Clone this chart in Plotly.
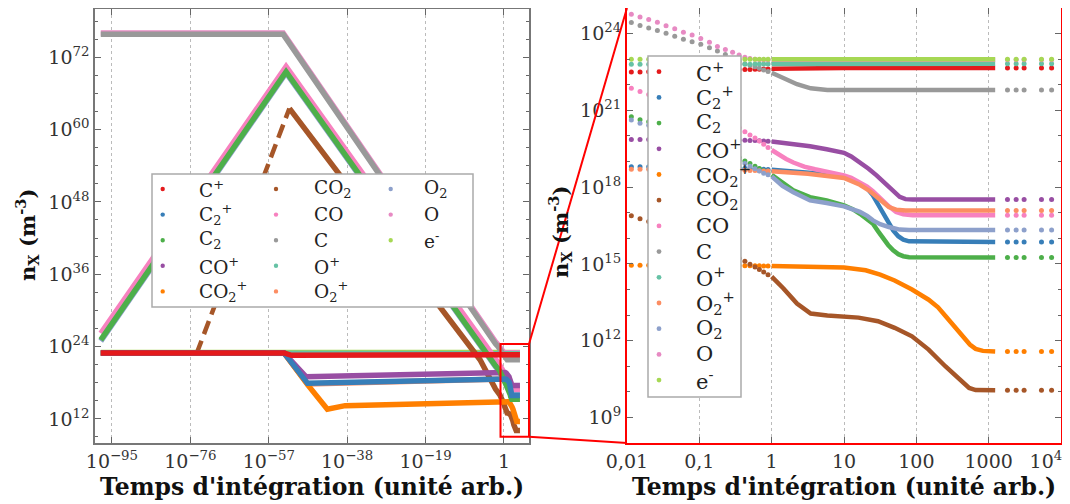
import plotly.graph_objects as go

# The page body adds an 8 px margin, so the figure is sized to fit the window
W, H = 1062, 496
OFF = 8
FONT = "DejaVu Serif"

# ---------------- shared time grids (log10 of integration time) ----------------
t_sparse = [-1.94, -1.82, -1.70, -1.58, -1.46, -1.34, -1.22, -1.10, -0.98, -0.86,
            -0.75, -0.64, -0.54, -0.45, -0.37, -0.30, -0.23, -0.17, -0.11, -0.05]
t_tail = [3.26, 3.38, 3.49, 3.73, 3.87]

# ---------------- ticks ----------------
left_xtick_exp = [-95, -76, -57, -38, -19, 0]
left_xtick_text = ["10<sup>\u221295</sup>", "10<sup>\u221276</sup>", "10<sup>\u221257</sup>",
                   "10<sup>\u221238</sup>", "10<sup>\u221219</sup>", "1"]
left_ytick_exp = [12, 24, 36, 48, 60, 72]
left_ytick_text = ["10<sup>12</sup>", "10<sup>24</sup>", "10<sup>36</sup>",
                   "10<sup>48</sup>", "10<sup>60</sup>", "10<sup>72</sup>"]
left_yminor_exp = [9, 15, 18, 21, 27, 30, 33, 39, 42, 45, 51, 54, 57, 63, 66, 69, 75, 78]
right_xtick_exp = [-2, -1, 0, 1, 2, 3, 4]
right_xtick_text = ["0,01", "0,1", "1", "10", "100", "1000",
                    "10<sup>4</sup>\u00a0\u00a0\u00a0\u00a0\u00a0"]
right_ytick_exp = [9, 12, 15, 18, 21, 24]
right_ytick_text = ["10<sup>9</sup>", "10<sup>12</sup>", "10<sup>15</sup>",
                    "10<sup>18</sup>", "10<sup>21</sup>", "10<sup>24</sup>"]
right_yminor_exp = [10, 11, 13, 14, 16, 17, 19, 20, 22, 23, 25]

# ---------------- species data (log10 of density, m^-3) ----------------
# C+
cp_early_t = [-97.7, -53.3, -51.5, -2.05]
cp_early_n = [22.95, 22.95, 22.55, 22.50]
cp_sparse = [22.50, 22.50, 22.51, 22.51, 22.52, 22.52, 22.53, 22.54, 22.55, 22.56,
             22.57, 22.58, 22.58, 22.59, 22.60, 22.60, 22.61, 22.61, 22.62, 22.62]
cp_dense_t = [0.0, 0.5, 1.0, 3.09]
cp_dense_n = [22.63, 22.65, 22.66, 22.66]
cp_final = 22.66

# C2+
c2p_early_t = [-97.7, -53.3, -47.6, -2.05]
c2p_early_n = [22.95, 22.95, 17.9, 18.8]
c2p_sparse = [18.80, 18.80, 18.80, 18.80, 18.80, 18.79, 18.79, 18.79, 18.78, 18.78,
              18.77, 18.77, 18.76, 18.75, 18.74, 18.73, 18.72, 18.71, 18.70, 18.69]
c2p_dense_t = [0.0, 0.3, 0.6, 1.0, 1.22, 1.32, 1.40, 1.47, 1.54, 1.61, 1.68, 1.75, 1.82, 1.90, 3.09]
c2p_dense_n = [18.68, 18.62, 18.54, 18.39, 18.13, 17.95, 17.68, 17.33, 16.96, 16.60, 16.31, 16.08, 15.95, 15.88, 15.86]
c2p_final = 15.86

# C2
c2_early_t = [-97.7, -52.8, -2.05]
c2_early_n = [25.1, 69.6, 20.8]
c2_sparse = [20.75, 20.63, 20.55, 20.45, 20.35, 20.25, 20.14, 20.02, 19.90, 19.77,
             19.62, 19.47, 19.32, 19.16, 19.02, 18.92, 18.82, 18.73, 18.64, 18.55]
c2_dense_t = [0.0, 0.07, 0.15, 0.3, 0.53, 0.76, 1.0, 1.12, 1.22, 1.32, 1.40, 1.47, 1.54, 1.61, 1.68, 1.75, 1.82, 1.90, 3.09]
c2_dense_n = [18.48, 18.33, 18.15, 17.87, 17.61, 17.48, 17.29, 17.14, 16.96, 16.77, 16.57, 16.28, 15.99, 15.74, 15.53, 15.38, 15.30, 15.26, 15.25]
c2_final = 15.25

# CO+
cop_early_t = [-97.7, -53.3, -48.0, -2.05]
cop_early_n = [22.95, 22.95, 19.0, 19.86]
cop_sparse = [19.86, 19.86, 19.86, 19.86, 19.86, 19.85, 19.85, 19.85, 19.85, 19.85,
              19.84, 19.84, 19.84, 19.83, 19.83, 19.82, 19.82, 19.81, 19.80, 19.79]
cop_dense_t = [0.0, 0.3, 0.53, 0.76, 1.0, 1.1, 1.22, 1.34, 1.45, 1.57, 1.68, 1.77, 1.85, 1.95, 3.09]
cop_dense_n = [19.78, 19.70, 19.60, 19.48, 19.34, 19.20, 18.97, 18.72, 18.46, 18.13, 17.85, 17.62, 17.53, 17.52, 17.52]
cop_final = 17.52

# CO2+
co2p_early_t = [-97.7, -53.3, -47.5, -42.8, -38.5, -2.05]
co2p_early_n = [22.95, 22.95, 17.6, 13.6, 14.2, 14.95]
co2p_sparse = [14.95, 14.95, 14.95, 14.95, 14.95, 14.95, 14.95, 14.95, 14.94, 14.94,
               14.94, 14.94, 14.94, 14.93, 14.93, 14.93, 14.93, 14.93, 14.92, 14.92]
co2p_dense_t = [0.0, 0.5, 1.0, 1.3, 1.5, 1.7, 1.94, 2.17, 2.3, 2.4, 2.52, 2.64, 2.74, 2.82, 2.92, 3.09]
co2p_dense_n = [14.92, 14.90, 14.86, 14.75, 14.58, 14.35, 14.00, 13.60, 13.30, 12.97, 12.55, 12.17, 11.85, 11.68, 11.60, 11.58]
co2p_final = 11.58

# CO2 (rising part drawn dashed on the left panel)
co2_rise_t = [-74.5, -52.0]
co2_rise_n = [22.8, 63.5]
co2_early_t = [-52.0, -5.8, -2.05]
co2_early_n = [63.5, 21.8, 16.95]
co2_sparse = [16.88, 16.76, 16.66, 16.55, 16.44, 16.32, 16.20, 16.07, 15.94, 15.80,
              15.66, 15.52, 15.37, 15.22, 15.10, 14.99, 14.88, 14.78, 14.68, 14.58]
co2_dense_t = [0.0, 0.16, 0.35, 0.54, 0.77, 1.0, 1.2, 1.47, 1.7, 1.94, 2.17, 2.4, 2.55, 2.64, 2.73, 2.82, 2.95, 3.09]
co2_dense_n = [14.50, 14.05, 13.45, 13.06, 12.98, 12.95, 12.90, 12.76, 12.50, 12.17, 11.65, 11.00, 10.60, 10.34, 10.15, 10.07, 10.06, 10.06]
co2_final = 10.06

# CO
co_early_t = [-97.7, -52.8, -2.05]
co_early_n = [26.2, 70.45, 21.9]
co_sparse = [21.86, 21.74, 21.62, 21.50, 21.40, 21.30, 21.20, 21.10, 21.00, 20.88,
             20.76, 20.62, 20.48, 20.32, 20.16, 20.04, 19.92, 19.80, 19.68, 19.55]
co_dense_t = [0.0, 0.1, 0.2, 0.3, 0.45, 0.6, 0.76, 0.9, 1.0, 1.1, 1.22, 1.32, 1.40, 1.5, 1.62, 1.72, 1.82, 1.95, 3.09]
co_dense_n = [19.45, 19.25, 19.10, 18.96, 18.80, 18.70, 18.62, 18.53, 18.46, 18.36, 18.19, 18.02, 17.84, 17.56, 17.25, 17.03, 16.94, 16.90, 16.90]
co_final = 16.90

# C
c_early_t = [-97.7, -53.5, -2.05]
c_early_n = [75.8, 75.8, 24.47]
c_sparse = [24.43, 24.32, 24.22, 24.12, 24.01, 23.90, 23.78, 23.68, 23.58, 23.45,
            23.32, 23.18, 23.04, 22.92, 22.82, 22.76, 22.70, 22.65, 22.58, 22.52]
c_dense_t = [0.0, 0.16, 0.35, 0.54, 0.77, 3.09]
c_dense_n = [22.47, 22.28, 22.02, 21.86, 21.80, 21.80]
c_final = 21.80

# O+
op_early_t = [-97.7, -53.3, -2.05]
op_early_n = [22.95, 22.85, 22.80]
op_sparse = [22.80, 22.80, 22.80, 22.80, 22.80, 22.80, 22.80, 22.80, 22.80, 22.80,
             22.80, 22.80, 22.80, 22.80, 22.80, 22.80, 22.81, 22.81, 22.81, 22.81]
op_dense_t = [0.0, 3.09]
op_dense_n = [22.81, 22.82]
op_final = 22.82

# O2+
o2p_early_t = [-97.7, -53.3, -47.6, -2.05]
o2p_early_n = [22.95, 22.95, 17.8, 18.7]
o2p_sparse = [18.70, 18.70, 18.70, 18.70, 18.70, 18.70, 18.69, 18.69, 18.69, 18.68,
              18.68, 18.67, 18.67, 18.66, 18.66, 18.65, 18.65, 18.64, 18.63, 18.63]
o2p_dense_t = [0.0, 0.5, 1.0, 1.22, 1.36, 1.45, 1.54, 1.62, 1.72, 1.85, 3.09]
o2p_dense_n = [18.62, 18.52, 18.36, 18.09, 17.84, 17.62, 17.38, 17.22, 17.12, 17.09, 17.09]
o2p_final = 17.09

# O2
o2_early_t = [-97.7, -52.8, -2.05]
o2_early_n = [24.9, 69.4, 20.65]
o2_sparse = [20.62, 20.50, 20.42, 20.32, 20.22, 20.12, 20.01, 19.89, 19.77, 19.64,
             19.50, 19.35, 19.20, 19.05, 18.92, 18.82, 18.72, 18.63, 18.54, 18.48]
o2_dense_t = [0.0, 0.07, 0.15, 0.3, 0.53, 0.76, 1.0, 1.22, 1.32, 1.40, 1.5, 1.62, 1.77, 1.90, 3.09]
o2_dense_n = [18.42, 18.26, 18.05, 17.80, 17.48, 17.38, 17.25, 17.03, 16.88, 16.70, 16.55, 16.44, 16.34, 16.32, 16.32]
o2_final = 16.32

# O
o_early_t = [-97.7, -53.5, -2.05]
o_early_n = [76.0, 76.0, 24.8]
o_sparse = [24.76, 24.65, 24.55, 24.44, 24.31, 24.19, 24.05, 23.94, 23.81, 23.66,
            23.50, 23.38, 23.27, 23.16, 23.08, 23.03, 23.00, 22.99, 22.98, 22.98]
o_dense_t = [0.0, 3.09]
o_dense_n = [22.98, 22.98]
o_final = 22.98

# e-
e_early_t = [-97.7, -2.05]
e_early_n = [23.0, 23.0]
e_sparse = [23.00, 23.00, 23.00, 23.00, 23.00, 23.00, 23.00, 23.00, 23.00, 23.00,
            23.00, 23.00, 23.00, 23.00, 23.00, 23.00, 23.00, 23.00, 23.00, 23.00]
e_dense_t = [0.0, 3.09]
e_dense_n = [23.0, 23.0]
e_final = 23.0

species = [
    ("C<sup>+</sup>", "#e41a1c", cp_early_t, cp_early_n, cp_sparse, cp_dense_t, cp_dense_n, cp_final),
    ("C<sub>2</sub><sup>+</sup>", "#377eb8", c2p_early_t, c2p_early_n, c2p_sparse, c2p_dense_t, c2p_dense_n, c2p_final),
    ("C<sub>2</sub>", "#4daf4a", c2_early_t, c2_early_n, c2_sparse, c2_dense_t, c2_dense_n, c2_final),
    ("CO<sup>+</sup>", "#984ea3", cop_early_t, cop_early_n, cop_sparse, cop_dense_t, cop_dense_n, cop_final),
    ("CO<sub>2</sub><sup>+</sup>", "#ff7f00", co2p_early_t, co2p_early_n, co2p_sparse, co2p_dense_t, co2p_dense_n, co2p_final),
    ("CO<sub>2</sub>", "#a65628", co2_early_t, co2_early_n, co2_sparse, co2_dense_t, co2_dense_n, co2_final),
    ("CO", "#f781bf", co_early_t, co_early_n, co_sparse, co_dense_t, co_dense_n, co_final),
    ("C", "#999999", c_early_t, c_early_n, c_sparse, c_dense_t, c_dense_n, c_final),
    ("O<sup>+</sup>", "#66c2a5", op_early_t, op_early_n, op_sparse, op_dense_t, op_dense_n, op_final),
    ("O<sub>2</sub><sup>+</sup>", "#fc8d62", o2p_early_t, o2p_early_n, o2p_sparse, o2p_dense_t, o2p_dense_n, o2p_final),
    ("O<sub>2</sub>", "#8da0cb", o2_early_t, o2_early_n, o2_sparse, o2_dense_t, o2_dense_n, o2_final),
    ("O", "#e78ac3", o_early_t, o_early_n, o_sparse, o_dense_t, o_dense_n, o_final),
    ("e<sup>-</sup>", "#a6d854", e_early_t, e_early_n, e_sparse, e_dense_t, e_dense_n, e_final),
]


def pw(v):
    return [10.0 ** x for x in v]


fig = go.Figure()

# ---------------- left panel (drawn in reverse order) ----------------
for label, color, et, en, sp, dt, dn, fin in reversed(species):
    xs = et + t_sparse + dt + t_tail
    ys = en + sp + dn + [fin] * len(t_tail)
    fig.add_trace(go.Scatter(x=pw(xs), y=pw(ys), mode="lines", xaxis="x", yaxis="y",
                             line=dict(color=color, width=5.5), showlegend=False,
                             hoverinfo="skip"))
    if color == "#a65628":
        fig.add_trace(go.Scatter(x=pw(co2_rise_t), y=pw(co2_rise_n), mode="lines",
                                 xaxis="x", yaxis="y",
                                 line=dict(color=color, width=4.5, dash="14px,7px"),
                                 showlegend=False, hoverinfo="skip"))

# ---------------- right panel ----------------
for label, color, et, en, sp, dt, dn, fin in species:
    fig.add_trace(go.Scatter(x=pw(t_sparse + t_tail), y=pw(sp + [fin] * len(t_tail)),
                             mode="markers", xaxis="x2", yaxis="y2",
                             marker=dict(color=color, size=5, line=dict(width=0)),
                             showlegend=False, hoverinfo="skip"))
    fig.add_trace(go.Scatter(x=pw(dt), y=pw(dn), mode="lines", xaxis="x2", yaxis="y2",
                             line=dict(color=color, width=4.5),
                             showlegend=False, hoverinfo="skip"))


def px(x):
    # reference pixel -> paper fraction
    return (x - OFF) / W


def py(y):
    return min(1.0, 1 - (y - OFF) / H)


tickfont = dict(family=FONT, size=19, color="#333333")
common = dict(type="log", showline=True, mirror="ticks", ticks="inside", ticklen=6,
              tickwidth=1, tickcolor="#666666", zeroline=False, tickfont=tickfont,
              tickmode="array")

fig.update_layout(
    width=W, height=H, template="none",
    paper_bgcolor="white", plot_bgcolor="white",
    margin=dict(l=0, r=0, t=0, b=0),
    showlegend=False,
    xaxis=dict(**common, domain=[px(95), px(529)], range=[-99.1, 6.06], anchor="y",
               tickvals=pw(left_xtick_exp), ticktext=left_xtick_text,
               linecolor="#777777", linewidth=1.5,
               showgrid=True, gridcolor="#bbbbbb", griddash="dot", gridwidth=1),
    yaxis=dict(**common, domain=[py(443), py(9)], range=[8, 80], anchor="x",
               tickvals=pw(left_ytick_exp), ticktext=left_ytick_text,
               linecolor="#777777", linewidth=1.5, showgrid=False,
               minor=dict(tickmode="array", tickvals=pw(left_yminor_exp), ticks="inside",
                          ticklen=3, tickcolor="#666666", showgrid=False)),
    xaxis2=dict(**common, domain=[px(627), px(1061)], range=[-2, 4], anchor="y2",
                tickvals=pw(right_xtick_exp), ticktext=right_xtick_text,
                ticklabeloverflow="allow",
                linecolor="#ff0000", linewidth=2,
                showgrid=True, gridcolor="#bbbbbb", griddash="dot", gridwidth=1),
    yaxis2=dict(**common, domain=[py(443), py(8)], range=[8, 25], anchor="x2",
                tickvals=pw(right_ytick_exp), ticktext=right_ytick_text,
                linecolor="#ff0000", linewidth=2, showgrid=False,
                minor=dict(tickmode="array", tickvals=pw(right_yminor_exp), ticks="inside",
                           ticklen=3, tickcolor="#666666", showgrid=False)),
)

shapes = []
annotations = []

# zoom indicator
shapes.append(dict(type="rect", xref="paper", yref="paper", x0=px(500.5), x1=px(529),
                   y0=py(436.7), y1=py(344), line=dict(color="#ff0000", width=2)))
shapes.append(dict(type="line", xref="paper", yref="paper", x0=px(529), y0=py(344),
                   x1=px(627), y1=py(8), line=dict(color="#ff0000", width=2)))
shapes.append(dict(type="line", xref="paper", yref="paper", x0=px(529), y0=py(436.7),
                   x1=px(627), y1=py(443), line=dict(color="#ff0000", width=2)))

# ---------------- left legend (3 columns) ----------------
shapes.append(dict(type="rect", xref="paper", yref="paper", x0=px(152), x1=px(473),
                   y0=py(307), y1=py(174), fillcolor="white",
                   line=dict(color="#aaaaaa", width=1.5)))
col_mx = [162.7, 276, 390.7]
col_tx = [196.7, 311.7, 421.7]
for i, (label, color, *_rest) in enumerate(species):
    col, row = i // 5, i % 5
    yy = 189 + row * 25.6
    r = 2.2
    shapes.append(dict(type="circle", xref="paper", yref="paper",
                       x0=px(col_mx[col] - r), x1=px(col_mx[col] + r),
                       y0=py(yy + r), y1=py(yy - r), fillcolor=color,
                       line=dict(width=0)))
    annotations.append(dict(xref="paper", yref="paper", x=px(col_tx[col]), y=py(yy),
                            text=label, showarrow=False, xanchor="left", yanchor="middle",
                            font=dict(family=FONT, size=18.5, color="#222222")))

# ---------------- right legend (1 column) ----------------
shapes.append(dict(type="rect", xref="paper", yref="paper", x0=px(648), x1=px(741),
                   y0=py(397), y1=py(56), fillcolor="white",
                   line=dict(color="#aaaaaa", width=1.5)))
for i, (label, color, *_rest) in enumerate(species):
    yy = 71.7 + i * 25.7
    r = 2.4
    shapes.append(dict(type="circle", xref="paper", yref="paper",
                       x0=px(659 - r), x1=px(659 + r), y0=py(yy + r), y1=py(yy - r),
                       fillcolor=color, line=dict(width=0)))
    annotations.append(dict(xref="paper", yref="paper", x=px(694), y=py(yy),
                            text=label, showarrow=False, xanchor="left", yanchor="middle",
                            font=dict(family=FONT, size=21, color="#222222")))

# ---------------- axis titles ----------------
xtitle = "<b>Temps d'intégration (unité arb.)</b>"
ytitle = "<b>n<sub>X</sub> (m<sup>-3</sup>)</b>"
for cx in (312, 844):
    annotations.append(dict(xref="paper", yref="paper", x=px(cx), y=py(487), text=xtitle,
                            showarrow=False, xanchor="center", yanchor="middle",
                            font=dict(family=FONT, size=23.5, color="#111111")))
for cx, cy in ((27, 235), (560, 232)):
    annotations.append(dict(xref="paper", yref="paper", x=px(cx), y=py(cy), text=ytitle,
                            showarrow=False, xanchor="center", yanchor="middle", textangle=-90,
                            font=dict(family=FONT, size=21, color="#111111")))

fig.update_layout(shapes=shapes, annotations=annotations)
fig.write_html("out.html")
